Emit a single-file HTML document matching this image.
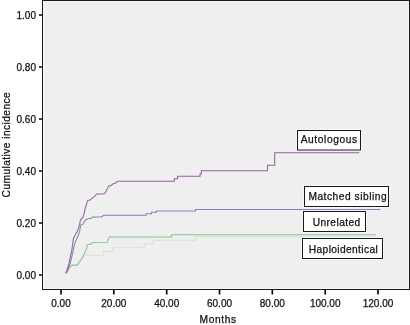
<!DOCTYPE html>
<html><head><meta charset="utf-8">
<style>
html,body{margin:0;padding:0;background:#fff;width:410px;height:325px;overflow:hidden}
svg{display:block;will-change:transform}
text{font-family:"Liberation Sans",sans-serif;fill:#111;stroke:#111;stroke-width:0.25px}
</style></head>
<body>
<svg width="410" height="325" viewBox="0 0 410 325">
<!-- plot area -->
<rect x="42" y="0" width="368" height="290" fill="#efefef"/>
<g shape-rendering="crispEdges" fill="none">
<path stroke="#f7f7f7" d="M43.5 1.5H408.5V288.5H43.5Z"/>
<path stroke="#f3f3f3" d="M44.5 2.5V287.5"/>
<path stroke="#1a1a1a" d="M42.5 0.5H409.5V289.5H42.5Z"/>
</g>
<!-- y ticks -->
<g stroke="#000" stroke-width="1.6" fill="none">
<path d="M39 15H42.5M39 67H42.5M39 119H42.5M39 171H42.5M39 223H42.5M39 275H42.5"/>
<path d="M61 289.5V294.5M113.8 289.5V294.5M166.7 289.5V294.5M219.5 289.5V294.5M272.3 289.5V294.5M325.2 289.5V294.5M378 289.5V294.5"/>
</g>
<g font-size="10" text-anchor="end">
<text x="36" y="18.6">1.00</text>
<text x="36" y="70.6">0.80</text>
<text x="36" y="122.6">0.60</text>
<text x="36" y="174.6">0.40</text>
<text x="36" y="226.6">0.20</text>
<text x="36" y="278.6">0.00</text>
</g>
<g font-size="10" text-anchor="middle">
<text x="61" y="306.6">0.00</text>
<text x="113.8" y="306.6">20.00</text>
<text x="166.7" y="306.6">40.00</text>
<text x="219.5" y="306.6">60.00</text>
<text x="272.3" y="306.6">80.00</text>
<text x="325.2" y="306.6">100.00</text>
<text x="378" y="306.6">120.00</text>
</g>
<text x="218.2" y="322.6" font-size="10.2" letter-spacing="0.65" text-anchor="middle">Months</text>
<text transform="translate(9.7,144.6) rotate(-90)" font-size="10.2" letter-spacing="0.44" text-anchor="middle">Cumulative incidence</text>

<!-- curves -->
<g fill="none" stroke-width="1.05" stroke-linejoin="miter">
<!-- Haploidentical (tan) -->
<polyline stroke="#dfddd2" points="67,271.8 70,267.3 72,265.8 76.5,265.6 78.5,261 81,258.5 84,256.2 86,255.2 103.6,255.2 103.6,251.5 112.8,251.5 112.8,247.8 144.2,247.8 144.2,243.8 153.4,243.8 153.4,240.2 195.2,240.2 195.2,236.8 376,236.8"/>
<!-- Unrelated (green) -->
<polyline stroke="#88c794" points="66.5,272.5 67.3,271.2 70.1,266.8 71.8,265.1 77.8,265.1 78.9,262.9 80.6,260.7 82.3,257.9 83.9,254.6 85.6,251.3 86.7,248 87.3,244.6 89.5,244.1 91.7,244.1 92.2,242.4 107.5,242.2 108.5,238.5 109.5,237 171.6,237 171.6,234.7 375.6,234.7"/>
<!-- Matched sibling (blue) -->
<polyline stroke="#7c87b4" points="66.5,273 67.3,271.2 70.1,263.5 72.3,254.6 74,246.9 75.6,241 77,238.2 78.5,234.7 79.7,231 80.3,227.3 80.9,224.8 82.8,224.2 84,222.4 85.2,220.5 86.5,219.5 88.9,218.6 91.4,218.2 92.6,217 101.7,217 103.1,215.8 104,215.3 146.2,215.2 146.2,213.8 151.5,213.8 151.5,212.3 156.5,212.3 156.5,210.9 195.4,210.9 195.4,209.4 380.6,209.4"/>
<!-- Autologous (purple) -->
<polyline transform="translate(0,0.15)" stroke="#93619b" points="65.2,273.3 66.2,272.3 69,263.5 70.6,255.7 71.8,250.2 72.9,242.4 73.4,238 74.8,235.7 76,233.2 77.2,231.4 78.5,228.3 79.7,224 80.3,220.3 81.5,218.5 82.8,217.2 84,214.2 84.6,211.1 85.2,208 86.4,204.5 87.4,201.2 87.9,200.2 89.8,200.2 90.8,199.3 91.8,198.5 92.7,197.5 93.7,197 94.7,196 96.1,194.6 96.6,193.8 104,193.8 104.9,192.6 105.9,191.7 106.9,189.2 107.9,187.3 108.8,185.8 111.3,185.3 112.7,183.9 114.2,183.4 115.7,182.9 116.6,181.9 117.6,181 174.3,181 174.3,178.7 177.6,178.7 177.6,176 200.1,176 200.1,173.5 201.4,173.5 201.4,170.5 267.5,170.5 267.5,165 274.7,165 274.7,152.7 359.3,152.7"/>
</g>

<!-- legend boxes -->
<g fill="none" stroke="#f7f7f7" stroke-width="1" shape-rendering="crispEdges">
<rect x="296.5" y="129.5" width="65" height="21"/>
<rect x="303.5" y="185.5" width="86" height="22"/>
<rect x="302.5" y="210.5" width="64" height="22"/>
<rect x="301.5" y="237.5" width="82" height="22"/>
</g>
<g fill="#fff" stroke="#1a1a1a" stroke-width="1" shape-rendering="crispEdges">
<rect x="297.5" y="130.5" width="63" height="19.5" shape-rendering="auto"/>
<rect x="304.5" y="186.5" width="84" height="20"/>
<rect x="303.5" y="211.5" width="62" height="20"/>
<rect x="302.5" y="238.5" width="80" height="20"/>
</g>
<g font-size="10.2">
<text x="300.7" y="143.1" letter-spacing="0.6">Autologous</text>
<text x="308.4" y="200" letter-spacing="0.53">Matched sibling</text>
<text x="312.7" y="225.5" letter-spacing="0.42">Unrelated</text>
<text x="308.8" y="252.6" letter-spacing="0.38">Haploidentical</text>
</g>
</svg>
</body></html>
